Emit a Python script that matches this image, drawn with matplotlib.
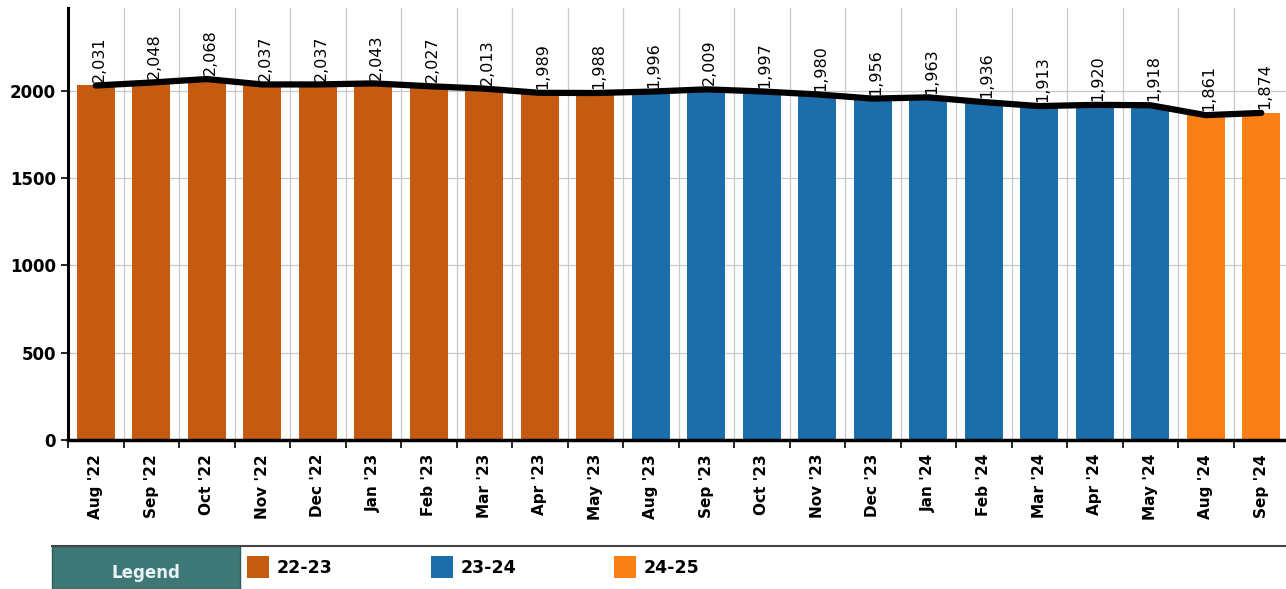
import matplotlib.pyplot as plt
import matplotlib.patches as mpatches
import numpy as np

# monthly values
months = ["Aug '22", "Sep '22", "Oct '22", "Nov '22", "Dec '22", "Jan '23", "Feb '23",
          "Mar '23", "Apr '23", "May '23", "Aug '23", "Sep '23", "Oct '23", "Nov '23",
          "Dec '23", "Jan '24", "Feb '24", "Mar '24", "Apr '24", "May '24", "Aug '24", "Sep '24"]
values = [2031, 2048, 2068, 2037, 2037, 2043, 2027, 2013, 1989, 1988,
          1996, 2009, 1997, 1980, 1956, 1963, 1936, 1913, 1920, 1918, 1861, 1874]
years = ["22-23"] * 10 + ["23-24"] * 10 + ["24-25"] * 2

year_names = ["22-23", "23-24", "24-25"]
year_colors = {"22-23": "#C55A11", "23-24": "#1B6EAA", "24-25": "#FA7F15"}

n = len(values)
x = np.arange(n)
step = 55.5  # px per category

fig = plt.figure(figsize=(12.86, 5.89), dpi=100)
ax = fig.add_axes([68/1286, 149/589, (1286-68)/1286, 432/589])

ax.bar(x, values, width=0.68, color=[year_colors[y] for y in years], zorder=2)
ax.plot(x, values, color="black", lw=4.5, zorder=3, solid_capstyle="round")

for xi, v in zip(x, values):
    ax.text(xi + 0.06, v + 22, f"{v:,}", rotation=90, ha="center", va="bottom",
            fontsize=11.5, color="black", zorder=4)

ax.set_xlim(-0.5, -0.5 + (1286 - 68) / step)
ax.set_ylim(0, 2475)

# grid on category boundaries
ax.set_xticks(np.arange(n) - 0.5)
ax.set_xticklabels([])
ax.set_xticks(x, minor=True)
ax.set_xticklabels(months, minor=True, rotation=90, fontsize=11, fontweight="bold")
ax.tick_params(axis="x", which="minor", length=0, pad=10)
ax.tick_params(axis="x", which="major", length=6, width=1.2, direction="out")
ax.set_yticks([0, 500, 1000, 1500, 2000])
ax.set_yticklabels(["0", "500", "1000", "1500", "2000"], fontsize=12, fontweight="bold")
ax.tick_params(axis="y", length=5, width=1.2)
ax.grid(True, which="major", color="#c8c8c8", lw=0.9, zorder=0)
ax.set_axisbelow(True)

for s in ["top", "right"]:
    ax.spines[s].set_visible(False)
ax.spines["left"].set_linewidth(2.2)
ax.spines["bottom"].set_linewidth(2.5)

# legend strip
W, H = 1286, 589
fig.add_artist(mpatches.Rectangle((52/W, 0), (240-52)/W, (589-546)/H,
                                  transform=fig.transFigure, facecolor="#3D7876",
                                  edgecolor="#2f5d5b", lw=1))
fig.add_artist(plt.Line2D([52/W, 1], [(589-546)/H]*2, transform=fig.transFigure,
                          color="#444444", lw=1.5))
fig.text(146/W, 16/H, "Legend", ha="center", va="center", color="#e8f2f2",
         fontsize=12, fontweight="bold")
for xpos, name in zip([247, 431, 614], year_names):
    fig.add_artist(mpatches.Rectangle((xpos/W, (589-578)/H), 22/W, 22/H,
                                      transform=fig.transFigure,
                                      facecolor=year_colors[name], edgecolor="none"))
    fig.text((xpos + 30)/W, (589-568)/H, name, ha="left", va="center",
             fontsize=12.5, fontweight="bold")

fig.savefig("out.png", dpi=100)
